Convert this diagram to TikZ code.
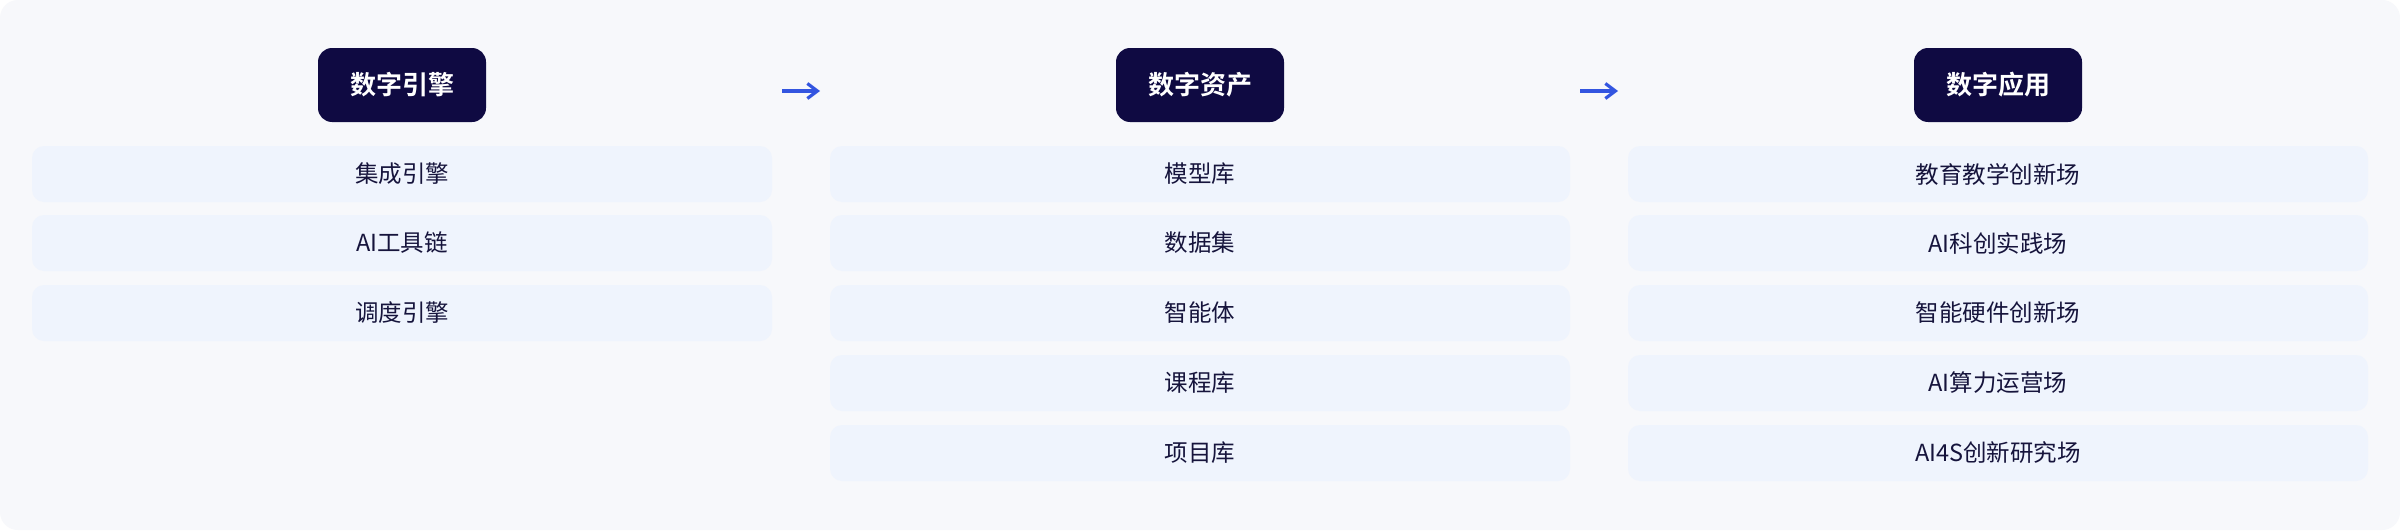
\documentclass[tikz,border=0pt]{standalone}
\usepackage{fontspec}
\setmainfont{Noto Sans CJK SC}[BoldFont={* Bold}]
\usetikzlibrary{arrows.meta}
\definecolor{pagebg}{HTML}{F7F8FB}
\definecolor{itembg}{HTML}{EFF4FD}
\definecolor{headbg}{HTML}{0F0A42}
\definecolor{itemtext}{HTML}{16143C}
\definecolor{arrowblue}{HTML}{3355E0}
\tikzset{
  headbox/.style={fill=headbg, rounded corners=14pt, minimum width=168pt, minimum height=74pt,
    inner sep=0pt, text=white, font=\fontsize{26}{30}\selectfont\bfseries},
  itembox/.style={fill=itembg, rounded corners=12pt, minimum width=740pt, minimum height=56pt,
    inner sep=0pt, text=itemtext, font=\fontsize{23.5}{28}\selectfont},
  flowarrow/.style={draw=arrowblue, line width=3.2pt, -{Straight Barb[length=10pt,width=15pt,line width=3.2pt]}}
}
\begin{document}
\begin{tikzpicture}[x=1pt,y=-1pt]
\useasboundingbox (0,0) rectangle (2400,530);
\fill[white] (0,0) rectangle (2400,530);
\fill[pagebg, rounded corners=18pt] (0,0) rectangle (2400,530);
% headers
\node[headbox] (h1) at (402,85) {数字引擎};
\node[headbox] (h2) at (1200,85) {数字资产};
\node[headbox] (h3) at (1998,85) {数字应用};
% column 1
\node[itembox] (a1) at (402,174) {集成引擎};
\node[itembox] (a2) at (402,243) {AI工具链};
\node[itembox] (a3) at (402,313) {调度引擎};
% column 2
\node[itembox] (b1) at (1200,174) {模型库};
\node[itembox] (b2) at (1200,243) {数据集};
\node[itembox] (b3) at (1200,313) {智能体};
\node[itembox] (b4) at (1200,383) {课程库};
\node[itembox] (b5) at (1200,453) {项目库};
% column 3
\node[itembox] (c1) at (1998,174) {教育教学创新场};
\node[itembox] (c2) at (1998,243) {AI科创实践场};
\node[itembox] (c3) at (1998,313) {智能硬件创新场};
\node[itembox] (c4) at (1998,383) {AI算力运营场};
\node[itembox] (c5) at (1998,453) {AI4S创新研究场};
% arrows
\coordinate (r1s) at (782,91);
\coordinate (r1e) at (820,91);
\coordinate (r2s) at (1580,91);
\coordinate (r2e) at (1618,91);
\draw[flowarrow] (r1s) -- (r1e);
\draw[flowarrow] (r2s) -- (r2e);
\end{tikzpicture}
\end{document}
